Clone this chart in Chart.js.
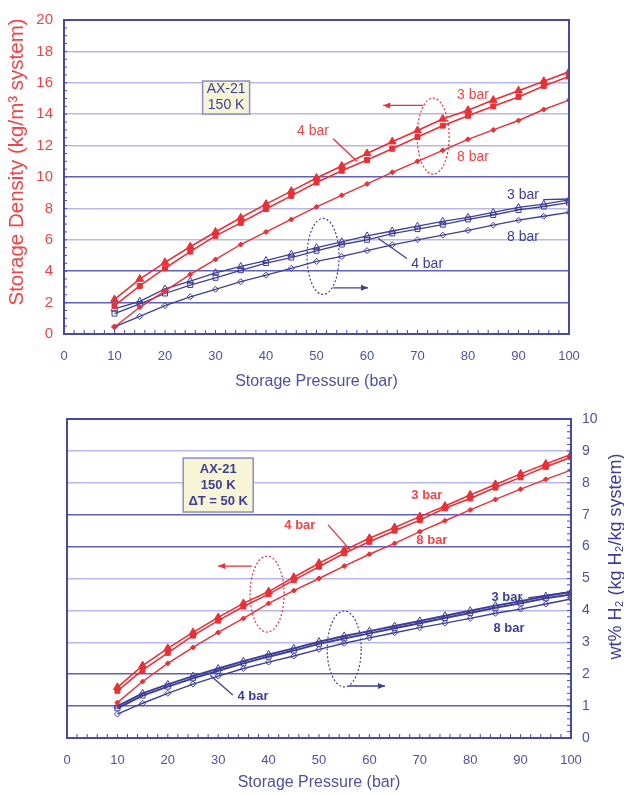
<!DOCTYPE html>
<html>
<head>
<meta charset="utf-8">
<script src="https://cdn.jsdelivr.net/npm/chart.js@4.4.1/dist/chart.umd.min.js"></script>
<style>
  body { margin: 0; background: #fff; }
  canvas { display: block; }
</style>
</head>
<body>
<canvas id="densityChart" width="624" height="395"></canvas>
<canvas id="wtChart" width="624" height="399"></canvas>
<script>
// storage pressure (bar), shared by every series
const pressure = [10, 15, 20, 25, 30, 35, 40, 45, 50, 55, 60, 65, 70, 75, 80, 85, 90, 95, 100];

// top chart: storage density (kg/m3 system), red = left arrow group, blue = right arrow group
const densRed3 = [2.2, 3.5, 4.56, 5.56, 6.5, 7.4, 8.27, 9.1, 9.94, 10.7, 11.5, 12.25, 12.96, 13.7, 14.25, 14.9, 15.5, 16.1, 16.7];
const densRed4 = [1.8, 3.06, 4.19, 5.25, 6.25, 7.08, 7.96, 8.8, 9.65, 10.4, 11.08, 11.8, 12.55, 13.27, 13.9, 14.5, 15.1, 15.8, 16.4];
const densRed8 = [0.45, 1.7, 2.75, 3.8, 4.75, 5.7, 6.5, 7.3, 8.1, 8.83, 9.56, 10.3, 11.0, 11.7, 12.4, 13.0, 13.6, 14.3, 14.9];
const densBlue3 = [1.6, 2.08, 2.87, 3.37, 3.9, 4.3, 4.68, 5.08, 5.5, 5.87, 6.25, 6.56, 6.87, 7.18, 7.43, 7.75, 8.06, 8.27, 8.54];
const densBlue4 = [1.3, 1.92, 2.58, 3.12, 3.58, 4.06, 4.52, 4.87, 5.3, 5.7, 6.0, 6.4, 6.68, 6.96, 7.3, 7.58, 7.9, 8.12, 8.37];
const densBlue8 = [0.45, 1.12, 1.81, 2.37, 2.85, 3.33, 3.75, 4.18, 4.62, 4.94, 5.31, 5.68, 6.0, 6.3, 6.6, 6.93, 7.25, 7.5, 7.75];

// bottom chart: wt% H2 (kg H2/kg system)
const wtRed3 = [1.59, 2.27, 2.81, 3.31, 3.78, 4.22, 4.59, 5.04, 5.48, 5.89, 6.26, 6.6, 6.94, 7.27, 7.62, 7.95, 8.28, 8.59, 8.89];
const wtRed4 = [1.48, 2.13, 2.67, 3.21, 3.68, 4.12, 4.51, 4.95, 5.37, 5.79, 6.15, 6.5, 6.83, 7.2, 7.51, 7.85, 8.17, 8.5, 8.8];
const wtRed8 = [1.11, 1.77, 2.34, 2.84, 3.31, 3.75, 4.22, 4.62, 5.0, 5.39, 5.76, 6.1, 6.47, 6.81, 7.15, 7.48, 7.8, 8.11, 8.4];
const wtBlue3 = [1.0, 1.4, 1.68, 1.94, 2.18, 2.41, 2.62, 2.81, 3.02, 3.2, 3.35, 3.51, 3.67, 3.83, 3.99, 4.15, 4.29, 4.45, 4.58];
const wtBlue4 = [0.93, 1.33, 1.61, 1.87, 2.11, 2.34, 2.55, 2.74, 2.95, 3.12, 3.28, 3.44, 3.6, 3.76, 3.92, 4.08, 4.22, 4.38, 4.5];
const wtBlue8 = [0.75, 1.09, 1.4, 1.69, 1.94, 2.18, 2.38, 2.57, 2.78, 2.97, 3.14, 3.3, 3.46, 3.6, 3.75, 3.91, 4.04, 4.2, 4.36];

const RED = 'rgb(232, 48, 55)';
const RED_TXT = 'rgb(238, 70, 72)';
const BLUE = 'rgb(62, 62, 150)';
const AXIS = 'rgb(72, 72, 165)';
const TICK_TXT = 'rgb(80, 80, 160)';
const GRID_DARK = 'rgb(96, 96, 180)';
const GRID_LIGHT = 'rgb(184, 184, 228)';

const F = '"Liberation Sans", Arial, sans-serif';
Chart.defaults.font.family = F;

function series(values, color, style, radius, filled, width) {
    return {
        data: values.map((v, i) => ({ x: pressure[i], y: v })),
        borderColor: color,
        borderWidth: width,
        backgroundColor: color,
        pointStyle: style,
        pointRadius: radius,
        pointBorderColor: color,
        pointBorderWidth: 1,
        pointBackgroundColor: filled ? color : 'rgba(255,255,255,0)',
        tension: 0
    };
}

function sideTitle(ctx, text, x, y, color, size) {
    ctx.save();
    ctx.translate(x, y);
    ctx.rotate(-Math.PI / 2);
    ctx.fillStyle = color;
    ctx.font = size + 'px ' + F;
    ctx.textAlign = 'center';
    ctx.textBaseline = 'middle';
    ctx.fillText(text, 0, 0);
    ctx.restore();
}

// frame, minor ticks and the hand-drawn notes (labels, ellipses, arrows, box)
function notesPlugin(notes, opts) {
    return {
        id: 'notes',
        afterDatasetsDraw(chart) {
            const { ctx, chartArea: a, scales } = chart;
            const sx = scales.x, sy = scales.y;
            const px = v => sx.getPixelForValue(v);
            const py = v => sy.getPixelForValue(v);
            ctx.save();

            // minor ticks
            ctx.strokeStyle = AXIS;
            ctx.lineWidth = 1;
            ctx.beginPath();
            for (let v = 0; v <= 100; v += 2) {
                ctx.moveTo(px(v), a.bottom);
                ctx.lineTo(px(v), a.bottom - 4);
            }
            for (let v = sy.min; v <= sy.max + 1e-9; v += opts.yMinor) {
                if (opts.side === 'left') {
                    ctx.moveTo(a.left, py(v));
                    ctx.lineTo(a.left + 3, py(v));
                } else {
                    ctx.moveTo(a.right, py(v));
                    ctx.lineTo(a.right - 4, py(v));
                }
            }
            ctx.stroke();

            // plot frame
            ctx.strokeStyle = AXIS;
            ctx.lineWidth = 2;
            ctx.strokeRect(a.left, a.top, a.right - a.left, a.bottom - a.top);

            notes.forEach(n => {
                ctx.setLineDash([]);
                if (n.type === 'text') {
                    ctx.fillStyle = n.color;
                    ctx.font = n.font;
                    ctx.textAlign = 'center';
                    ctx.textBaseline = 'middle';
                    ctx.fillText(n.text, px(n.x), py(n.y));
                } else if (n.type === 'line' || n.type === 'arrow') {
                    const x1 = px(n.x1), y1 = py(n.y1), x2 = px(n.x2), y2 = py(n.y2);
                    ctx.strokeStyle = n.color;
                    ctx.lineWidth = 1.3;
                    ctx.beginPath();
                    ctx.moveTo(x1, y1);
                    ctx.lineTo(x2, y2);
                    ctx.stroke();
                    if (n.type === 'arrow') {
                        const ang = Math.atan2(y2 - y1, x2 - x1);
                        ctx.fillStyle = n.color;
                        ctx.beginPath();
                        ctx.moveTo(x2, y2);
                        ctx.lineTo(x2 - 7 * Math.cos(ang) + 3 * Math.sin(ang), y2 - 7 * Math.sin(ang) - 3 * Math.cos(ang));
                        ctx.lineTo(x2 - 7 * Math.cos(ang) - 3 * Math.sin(ang), y2 - 7 * Math.sin(ang) + 3 * Math.cos(ang));
                        ctx.closePath();
                        ctx.fill();
                    }
                } else if (n.type === 'ellipse') {
                    ctx.strokeStyle = n.color;
                    ctx.lineWidth = 1.2;
                    ctx.setLineDash([2, 2]);
                    ctx.beginPath();
                    ctx.ellipse(px(n.x), py(n.y), n.rx, n.ry, 0, 0, Math.PI * 2);
                    ctx.stroke();
                } else if (n.type === 'box') {
                    const cx = px(n.x), cy = py(n.y);
                    ctx.fillStyle = 'rgb(247, 245, 214)';
                    ctx.strokeStyle = 'rgb(140, 140, 195)';
                    ctx.lineWidth = 1.5;
                    ctx.fillRect(cx - n.w / 2, cy - n.h / 2, n.w, n.h);
                    ctx.strokeRect(cx - n.w / 2, cy - n.h / 2, n.w, n.h);
                    ctx.fillStyle = BLUE;
                    ctx.font = n.font;
                    ctx.textAlign = 'center';
                    ctx.textBaseline = 'middle';
                    const lh = n.lineHeight;
                    n.lines.forEach((t, i) => {
                        ctx.fillText(t, cx, cy + (i - (n.lines.length - 1) / 2) * lh);
                    });
                }
            });

            const mid = (a.top + a.bottom) / 2;
            if (opts.leftTitle) sideTitle(ctx, opts.leftTitle, 17, mid - 15, RED_TXT, 20.5);
            if (opts.rightTitle) sideTitle(ctx, opts.rightTitle, chart.width - 8, mid - 22, BLUE, 18);
            ctx.restore();
        }
    };
}

const densNotes = [
    { type: 'box', x: 32.1, y: 15.06, w: 47, h: 33, lines: ['AX-21', '150 K'], font: '14px ' + F, lineHeight: 16 },
    { type: 'text', x: 81, y: 15.2, text: '3 bar', color: RED_TXT, font: '14px ' + F },
    { type: 'text', x: 49.3, y: 12.9, text: '4 bar', color: RED_TXT, font: '14px ' + F },
    { type: 'line', x1: 53.3, y1: 12.44, x2: 58, y2: 11.0, color: RED },
    { type: 'text', x: 81, y: 11.25, text: '8 bar', color: RED_TXT, font: '14px ' + F },
    { type: 'ellipse', x: 73.1, y: 12.6, rx: 16, ry: 38, color: RED },
    { type: 'arrow', x1: 71.1, y1: 14.56, x2: 63.2, y2: 14.56, color: RED },
    { type: 'text', x: 90.9, y: 8.85, text: '3 bar', color: BLUE, font: '14px ' + F },
    { type: 'line', x1: 94.9, y1: 8.56, x2: 100, y2: 8.6, color: BLUE },
    { type: 'text', x: 90.9, y: 6.2, text: '8 bar', color: BLUE, font: '14px ' + F },
    { type: 'text', x: 71.9, y: 4.44, text: '4 bar', color: BLUE, font: '14px ' + F },
    { type: 'line', x1: 67.9, y1: 4.81, x2: 62.2, y2: 6.1, color: BLUE },
    { type: 'ellipse', x: 51.3, y: 4.94, rx: 16, ry: 38, color: BLUE },
    { type: 'arrow', x1: 53.3, y1: 2.94, x2: 60.2, y2: 2.94, color: BLUE }
];

const wtNotes = [
    { type: 'box', x: 30, y: 7.93, w: 70, h: 54, lines: ['AX-21', '150 K', '\u0394T = 50 K'], font: 'bold 13px ' + F, lineHeight: 16 },
    { type: 'text', x: 46.2, y: 6.65, text: '4 bar', color: RED_TXT, font: 'bold 13px ' + F },
    { type: 'line', x1: 51.8, y1: 6.68, x2: 56.2, y2: 5.89, color: RED },
    { type: 'text', x: 71.4, y: 7.59, text: '3 bar', color: RED_TXT, font: 'bold 13px ' + F },
    { type: 'text', x: 72.4, y: 6.18, text: '8 bar', color: RED_TXT, font: 'bold 13px ' + F },
    { type: 'ellipse', x: 39.7, y: 4.51, rx: 17, ry: 38, color: RED },
    { type: 'arrow', x1: 36.7, y1: 5.39, x2: 30, y2: 5.39, color: RED },
    { type: 'text', x: 87.3, y: 4.42, text: '3 bar', color: BLUE, font: 'bold 13px ' + F },
    { type: 'line', x1: 91.5, y1: 4.39, x2: 99.8, y2: 4.58, color: BLUE },
    { type: 'text', x: 87.7, y: 3.45, text: '8 bar', color: BLUE, font: 'bold 13px ' + F },
    { type: 'text', x: 36.9, y: 1.29, text: '4 bar', color: BLUE, font: 'bold 13px ' + F },
    { type: 'line', x1: 32.9, y1: 1.35, x2: 28.4, y2: 1.97, color: BLUE },
    { type: 'ellipse', x: 55, y: 2.79, rx: 17, ry: 38, color: BLUE },
    { type: 'arrow', x1: 55.8, y1: 1.63, x2: 63.1, y2: 1.63, color: BLUE }
];

function xAxis(height, titlePad) {
    return {
        type: 'linear', min: 0, max: 100,
        afterFit: s => { s.height = height; },
        ticks: { stepSize: 10, color: TICK_TXT, font: { size: 13 }, padding: 15 },
        grid: { display: false, drawTicks: false },
        border: { display: false },
        title: { display: true, text: 'Storage Pressure (bar)', color: TICK_TXT, font: { size: 16 }, padding: { top: 0, bottom: titlePad } }
    };
}

new Chart(document.getElementById('densityChart'), {
    type: 'line',
    data: {
        datasets: [
            series(densRed3, RED, 'triangle', 4.5, true, 1.6),
            series(densRed4, RED, 'rect', 3.5, true, 1.6),
            series(densRed8, RED, 'rectRot', 2.5, true, 1.4),
            series(densBlue3, BLUE, 'triangle', 4, false, 1.3),
            series(densBlue4, BLUE, 'rect', 3.5, false, 1.3),
            series(densBlue8, BLUE, 'rectRot', 3, false, 1.3)
        ]
    },
    options: {
        responsive: false,
        animation: false,
        layout: { padding: { left: 0, top: 14, right: 55, bottom: 0 } },
        plugins: { legend: { display: false }, tooltip: { enabled: false } },
        scales: {
            x: xAxis(61, 4),
            y: {
                min: 0, max: 20,
                afterFit: s => { s.width = 64; },
                ticks: { stepSize: 2, color: RED_TXT, font: { size: 15 }, padding: 11 },
                grid: {
                    drawTicks: false,
                    lineWidth: 1.5,
                    color: c => [2, 4, 10].includes(c.tick.value) ? GRID_DARK : GRID_LIGHT
                },
                border: { display: false }
            }
        }
    },
    plugins: [notesPlugin(densNotes, { side: 'left', yMinor: 0.5, leftTitle: 'Storage Density (kg/m\u00b3 system)' })]
});

new Chart(document.getElementById('wtChart'), {
    type: 'line',
    data: {
        datasets: [
            series(wtRed3, RED, 'triangle', 4.5, true, 1.6),
            series(wtRed4, RED, 'rect', 3.5, true, 1.6),
            series(wtRed8, RED, 'rectRot', 2.5, true, 1.4),
            series(wtBlue3, BLUE, 'triangle', 4, false, 2),
            series(wtBlue4, BLUE, 'rect', 3.5, false, 2),
            series(wtBlue8, BLUE, 'rectRot', 3, false, 1.4)
        ]
    },
    options: {
        responsive: false,
        animation: false,
        layout: { padding: { left: 67, top: 24, right: 0, bottom: 0 } },
        plugins: { legend: { display: false }, tooltip: { enabled: false } },
        scales: {
            x: xAxis(56, 2),
            y: {
                position: 'right',
                min: 0, max: 10,
                afterFit: s => { s.width = 53; },
                ticks: { stepSize: 1, color: TICK_TXT, font: { size: 14 }, padding: 11 },
                grid: {
                    drawTicks: false,
                    lineWidth: 1.5,
                    color: c => [1, 2, 6, 7].includes(c.tick.value) ? GRID_DARK : GRID_LIGHT
                },
                border: { display: false }
            }
        }
    },
    plugins: [notesPlugin(wtNotes, { side: 'right', yMinor: 0.2, rightTitle: 'wt% H\u2082 (kg H\u2082/kg system)' })]
});
</script>
</body>
</html>
